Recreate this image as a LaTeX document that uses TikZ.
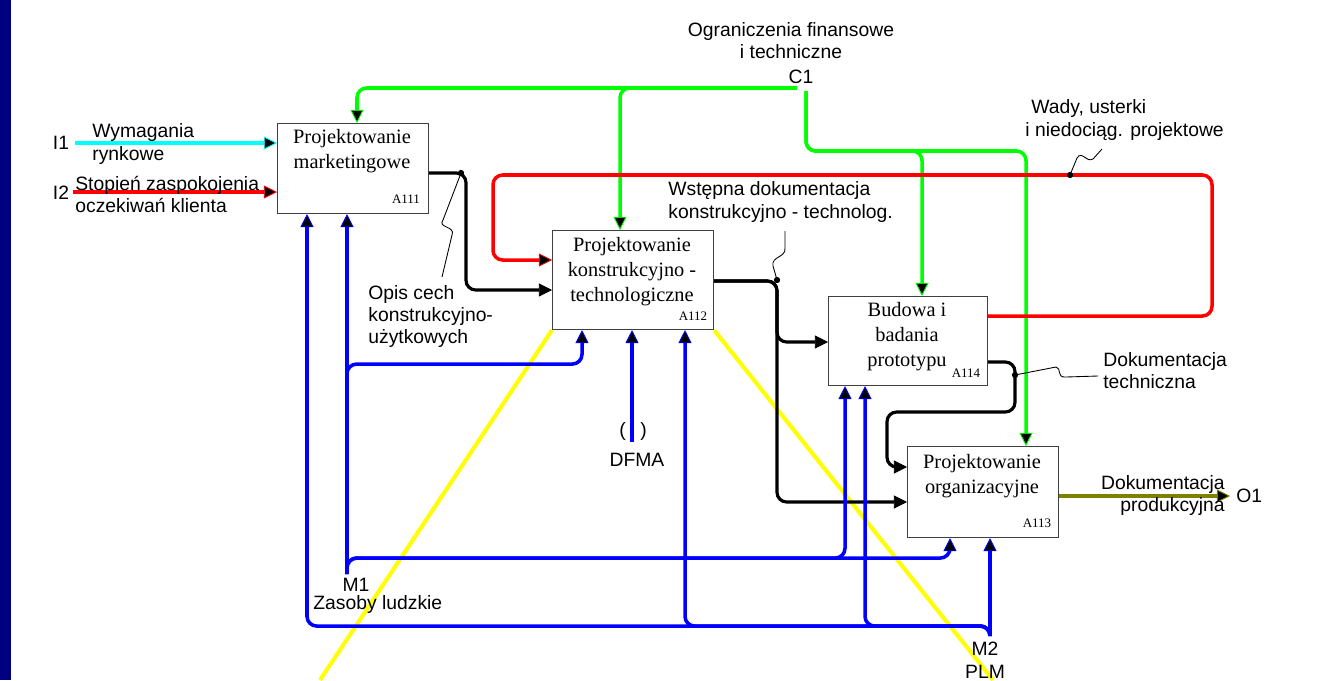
\documentclass[tikz,border=0pt]{standalone}
\usepackage{fontspec}
\setmainfont{Liberation Serif}
\setsansfont{Liberation Sans}
\usetikzlibrary{arrows.meta,calc}

\definecolor{navybar}{RGB}{0,0,128}
\definecolor{cgreen}{RGB}{0,255,0}
\definecolor{cred}{RGB}{255,0,0}
\definecolor{ccyan}{RGB}{0,255,255}
\definecolor{cblue}{RGB}{0,0,255}
\definecolor{cyellow}{RGB}{255,255,0}
\definecolor{colive}{RGB}{128,128,0}

\begin{document}
\begin{tikzpicture}[x=0.02cm,y=-0.02cm,
  flow/.style={line width=2pt, rounded corners=5.5pt},
  conn/.style={line width=1.8pt, rounded corners=5.5pt, black},
  tipped/.style={-{Triangle[length=7.5pt,width=7.5pt,fill=black,line width=0.5pt]}},
  box/.style={draw=black!75, line width=0.6pt, fill=white, anchor=north west, inner sep=0pt},
  boxtext/.style={font=\fontsize{11.6}{14.2}\selectfont, align=center, inner sep=0pt},
  code/.style={font=\fontsize{7.4}{8}\selectfont, inner sep=0pt},
  lab/.style={font=\sffamily\fontsize{11}{12.6}\selectfont, inner sep=0pt},
  leader/.style={line width=0.5pt, black},
  dot/.style={fill=black}
]
\useasboundingbox (0,0) rectangle (1331,680);

% left margin bar
\fill[navybar] (0,0) rectangle (11,680);

% activity boxes
\node[box, minimum width=3.02cm, minimum height=1.80cm] (a111) at (277,123) {};
\node[box, minimum width=3.22cm, minimum height=1.98cm] (a112) at (552,230) {};
\node[box, minimum width=3.18cm, minimum height=1.78cm] (a114) at (828,296) {};
\node[box, minimum width=3.02cm, minimum height=1.82cm] (a113) at (907,446) {};

% mechanism line through the second box
\draw[cyellow, line width=2.3pt] (a112.south west) -- (320,680);
\draw[cyellow, line width=2.3pt] (a112.south east) -- (993,680);

% end points of the boundary arrows
\coordinate (i1) at (75,143);
\coordinate (i2) at (73,192);
\coordinate (c1) at (797,88);
\coordinate (c1d) at (806,91);
\coordinate (gbend) at (806,151);
\coordinate (m1) at (347,574);
\coordinate (m2) at (990,636);
\coordinate (dfma) at (632,442);
\coordinate (o1) at (1230,496);
\coordinate (n111) at (461,173);
\coordinate (n112) at (777,280);
\coordinate (n114) at (1015,375);
\coordinate (nwady) at (1070,175);

% inputs
\draw[flow, ccyan, tipped] (i1) -- (i1 -| a111.west);
\draw[flow, cred, tipped] (i2) -- (i2 -| a111.west);

% controls
\draw[flow, cgreen, tipped] (c1) -| ($(a111.north west)+(80,0)$);
\draw[flow, cgreen, tipped] (c1) -| ($(a112.north west)+(68,0)$);
\draw[flow, cgreen, tipped] (c1d) -- (gbend) -| ($(a114.north west)+(94,0)$);
\draw[flow, cgreen, tipped] (c1d) -- (gbend) -| ($(a113.north west)+(119,0)$);

% feedback loop
\draw[flow, cred, tipped] ($(a114.north east)+(0,20)$) -| (1212,175) -| (493,260)
  -- ($(a112.north west)+(0,30)$);

% outputs between activities
\draw[conn, tipped] ($(a111.north east)+(0,50)$) -| ($(a112.north west)+(-86,60)$)
  -- ($(a112.north west)+(0,60)$);
\draw[conn, tipped] ($(a112.north east)+(0,51)$) -| ($(a114.north west)+(-51,46)$)
  -- ($(a114.north west)+(0,46)$);
\draw[conn, tipped] ($(a112.north east)+(0,51)$) -| ($(a113.north west)+(-130,56)$)
  -- ($(a113.north west)+(0,56)$);
\draw[conn, tipped] ($(a114.north east)+(0,66)$) -| (1015,412)
  -| ($(a113.north west)+(-20,21)$) -- ($(a113.north west)+(0,21)$);

% final output
\draw[flow, colive, tipped] ($(a113.north east)+(0,50)$) -- (o1);

% mechanisms M1
\draw[flow, cblue, tipped] (m1) -- (m1 |- a111.south);
\draw[flow, cblue, tipped] (m1) |- ($(a112.south west)+(30,34)$) -- ($(a112.south west)+(30,0)$);
\draw[flow, cblue, tipped] (m1) |- ($(a114.south west)+(17,172)$) -- ($(a114.south west)+(17,0)$);
\draw[flow, cblue, tipped] (m1) |- ($(a113.south west)+(43,20)$) -- ($(a113.south west)+(43,0)$);
% mechanisms M2
\draw[flow, cblue, tipped] (m2) -- (m2 |- a113.south);
\draw[flow, cblue, tipped] (m2) |- ($(a111.south west)+(30,412)$) -- ($(a111.south west)+(30,0)$);
\draw[flow, cblue, tipped] (m2) |- ($(a112.south west)+(133,296)$) -- ($(a112.south west)+(133,0)$);
\draw[flow, cblue, tipped] (m2) |- ($(a114.south west)+(37,240)$) -- ($(a114.south west)+(37,0)$);
% DFMA
\draw[flow, cblue, tipped] (dfma) -- (dfma |- a112.south);

% branch dots and label leaders
\fill[dot] (n111) circle (1.8pt);
\fill[dot] (n112) circle (1.8pt);
\fill[dot] (n114) circle (1.8pt);
\fill[dot] (nwady) circle (1.8pt);
\draw[leader] (n111) -- (443,220) .. controls (437,228) and (456,226) .. (452,235) -- (442,277);
\draw[leader] (n112) -- (773,266) .. controls (771,256) and (786,258) .. (785,248) -- (785,231);
\draw[leader] (n114) -- (1056,367) .. controls (1062,368) and (1056,378) .. (1066,377) -- (1098,376);
\draw[leader] (nwady) -- (1077,158) .. controls (1082,150) and (1086,163) .. (1093,159) -- (1102,149);

% box texts
\node[boxtext] (t111) at (352,151) {Projektowanie\\marketingowe};
\node[code] (k111) at (406,199) {A111};
\node[boxtext] (t112) at (632,272) {Projektowanie\\konstrukcyjno -\\technologiczne};
\node[code] (k112) at (693,316) {A112};
\node[boxtext] (t114) at (907,337) {Budowa i\\badania\\prototypu};
\node[code] (k114) at (966,373) {A114};
\node[boxtext] (t113) at (982,476) {Projektowanie\\organizacyjne};
\node[code] (k113) at (1037,523) {A113};

% labels
\node[lab] (li1) at (61,143) {I1};
\node[lab, anchor=west, align=left] (lw) at (92,144) {Wymagania\\rynkowe};
\node[lab] (li2) at (61,193) {I2};
\node[lab, anchor=west, align=left] (ls) at (75,194.5) {Stopień zaspokojenia\\oczekiwań klienta};
\node[lab, align=center] (lc) at (791,41) {Ograniczenia finansowe\\i techniczne};
\node[lab] (lc1) at (801,77) {C1};
\node[lab, anchor=west, align=left] (lwady) at (1025,120) {\hspace{3.4pt}Wady, usterki\\i niedociąg. projektowe};
\node[lab, anchor=west, align=left] (lwst) at (668,202) {Wstępna dokumentacja\\konstrukcyjno - technolog.};
\node[lab, anchor=west, align=left] (lopis) at (368,316.5) {Opis cech\\konstrukcyjno-\\użytkowych};
\node[lab, anchor=west, align=left] (ldt) at (1103,371) {Dokumentacja\\techniczna};
\node[lab, anchor=east, align=right] (ldp) at (1225,495.5) {Dokumentacja\\produkcyjna};
\node[lab, anchor=west] (lo1) at (1236,496) {O1};
\node[lab] (lm1) at (356,585) {M1};
\node[lab, anchor=west] (lzas) at (313,604) {Zasoby ludzkie};
\node[lab] (lm2) at (985,649) {M2};
\node[lab] (lplm) at (985,672) {PLM};
\node[lab] (ltun) at (633,431) {(\hspace{8.3pt})};
\node[lab] (ldfma) at (637,460) {DFMA};
\end{tikzpicture}
\end{document}
